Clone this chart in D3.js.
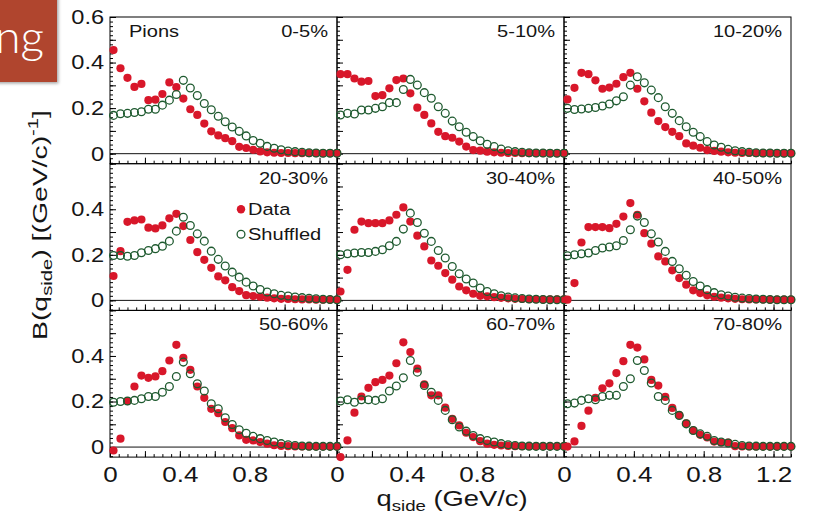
<!DOCTYPE html>
<html>
<head>
<meta charset="utf-8">
<script src="https://cdn.jsdelivr.net/npm/d3@7"></script>
<style>
    body { margin: 0; background: #fff; }
    svg { display: block; }
    text { font-family: "Liberation Sans", Arial, Helvetica, sans-serif; fill: #151515; }
</style>
</head>
<body>
<script>
/* bin centres of q_side (GeV/c) */
var qSide = [0.02, 0.06, 0.10, 0.14, 0.18, 0.22, 0.26, 0.30, 0.34, 0.38, 0.42,
             0.46, 0.50, 0.54, 0.58, 0.62, 0.66, 0.70, 0.74, 0.78, 0.82, 0.86,
             0.90, 0.94, 0.98, 1.02, 1.06, 1.10, 1.14, 1.18, 1.22, 1.26, 1.30];

var centralities = ["0-5%", "5-10%", "10-20%", "20-30%", "30-40%", "40-50%", "50-60%", "60-70%", "70-80%"];

/* B(q_side) of the data (filled red) and of shuffled events (open green), one pair per centrality */
var data_0_5 = [0.455, 0.375, 0.333, 0.293, 0.306, 0.235, 0.237, 0.262, 0.313, 0.292, 0.242,
                0.195, 0.170, 0.132, 0.098, 0.080, 0.068, 0.055, 0.030, 0.025, 0.017, 0.010,
                0.006, 0.004, 0.003, 0.003, 0.002, 0.002, 0.002, 0.002, 0.002, 0.002, 0.002];
var shuf_0_5 = [0.168, 0.175, 0.177, 0.181, 0.184, 0.195, 0.195, 0.213, 0.235, 0.260, 0.322,
                0.288, 0.255, 0.220, 0.193, 0.164, 0.140, 0.117, 0.098, 0.078, 0.058, 0.046,
                0.032, 0.024, 0.017, 0.012, 0.009, 0.006, 0.004, 0.003, 0.002, 0.002, 0.002];

var data_5_10 = [0.349, 0.349, 0.330, 0.316, 0.319, 0.253, 0.257, 0.287, 0.323, 0.330, 0.265,
                 0.202, 0.170, 0.133, 0.096, 0.077, 0.070, 0.053, 0.031, 0.016, 0.013, 0.009,
                 0.006, 0.004, 0.003, 0.003, 0.002, 0.002, 0.002, 0.002, 0.002, 0.002, 0.002];
var shuf_5_10 = [0.170, 0.177, 0.174, 0.192, 0.192, 0.199, 0.206, 0.224, 0.224, 0.282, 0.326,
                 0.301, 0.268, 0.243, 0.206, 0.177, 0.143, 0.118, 0.094, 0.075, 0.057, 0.041,
                 0.031, 0.020, 0.013, 0.009, 0.006, 0.004, 0.003, 0.003, 0.002, 0.002, 0.002];

var data_10_20 = [0.238, 0.289, 0.355, 0.349, 0.322, 0.285, 0.290, 0.307, 0.336, 0.355, 0.285,
                  0.230, 0.180, 0.143, 0.117, 0.096, 0.077, 0.045, 0.035, 0.026, 0.016, 0.012,
                  0.009, 0.006, 0.004, 0.003, 0.003, 0.002, 0.002, 0.002, 0.002, 0.002, 0.002];
var shuf_10_20 = [0.199, 0.194, 0.196, 0.199, 0.203, 0.209, 0.218, 0.232, 0.250, 0.301, 0.338,
                  0.311, 0.279, 0.246, 0.206, 0.177, 0.145, 0.118, 0.094, 0.075, 0.053, 0.038,
                  0.028, 0.019, 0.013, 0.009, 0.006, 0.004, 0.003, 0.003, 0.002, 0.002, 0.002];

var data_20_30 = [0.107, 0.216, 0.345, 0.351, 0.355, 0.319, 0.316, 0.329, 0.360, 0.380, 0.326,
                  0.265, 0.212, 0.178, 0.143, 0.105, 0.088, 0.058, 0.041, 0.023, 0.019, 0.016,
                  0.012, 0.009, 0.007, 0.006, 0.005, 0.004, 0.004, 0.003, 0.003, 0.003, 0.003];
var shuf_20_30 = [0.197, 0.197, 0.194, 0.197, 0.209, 0.219, 0.227, 0.238, 0.260, 0.304, 0.365,
                  0.329, 0.292, 0.260, 0.216, 0.180, 0.151, 0.124, 0.102, 0.080, 0.063, 0.048,
                  0.037, 0.029, 0.022, 0.019, 0.015, 0.012, 0.009, 0.007, 0.005, 0.004, 0.003];

var data_30_40 = [0.039, 0.134, 0.310, 0.346, 0.339, 0.339, 0.339, 0.351, 0.376, 0.408, 0.346,
                  0.284, 0.237, 0.175, 0.152, 0.120, 0.091, 0.061, 0.044, 0.029, 0.020, 0.018,
                  0.014, 0.011, 0.009, 0.007, 0.006, 0.005, 0.005, 0.004, 0.004, 0.004, 0.004];
var shuf_30_40 = [0.200, 0.205, 0.208, 0.210, 0.210, 0.215, 0.222, 0.240, 0.259, 0.313, 0.383,
                  0.342, 0.295, 0.259, 0.219, 0.186, 0.149, 0.117, 0.094, 0.076, 0.054, 0.039,
                  0.029, 0.020, 0.015, 0.011, 0.008, 0.006, 0.005, 0.004, 0.003, 0.003, 0.003];

var data_40_50 = [0.003, 0.076, 0.254, 0.322, 0.322, 0.322, 0.317, 0.336, 0.368, 0.427, 0.376,
                  0.295, 0.249, 0.193, 0.171, 0.132, 0.098, 0.069, 0.044, 0.032, 0.022, 0.016,
                  0.012, 0.009, 0.007, 0.005, 0.004, 0.004, 0.004, 0.003, 0.003, 0.003, 0.003];
var shuf_40_50 = [0.196, 0.200, 0.205, 0.208, 0.219, 0.230, 0.234, 0.240, 0.263, 0.310, 0.370,
                  0.342, 0.292, 0.256, 0.215, 0.171, 0.139, 0.110, 0.083, 0.063, 0.047, 0.034,
                  0.025, 0.019, 0.014, 0.010, 0.008, 0.006, 0.005, 0.004, 0.003, 0.003, 0.003];

var data_50_60 = [-0.015, 0.037, 0.202, 0.266, 0.314, 0.304, 0.310, 0.333, 0.380, 0.449, 0.392,
                  0.339, 0.266, 0.216, 0.168, 0.149, 0.110, 0.083, 0.051, 0.032, 0.029, 0.022,
                  0.015, 0.008, 0.005, 0.004, 0.003, 0.003, 0.003, 0.003, 0.003, 0.003, 0.003];
var shuf_50_60 = [0.197, 0.200, 0.202, 0.205, 0.212, 0.222, 0.222, 0.241, 0.266, 0.310, 0.373,
                  0.322, 0.278, 0.246, 0.190, 0.168, 0.129, 0.099, 0.076, 0.061, 0.047, 0.037,
                  0.029, 0.022, 0.015, 0.010, 0.007, 0.005, 0.004, 0.003, 0.003, 0.003, 0.003];

var data_60_70 = [-0.044, 0.029, 0.151, 0.222, 0.260, 0.285, 0.295, 0.314, 0.368, 0.460, 0.417,
                  0.344, 0.275, 0.227, 0.227, 0.173, 0.124, 0.095, 0.063, 0.044, 0.026, 0.015,
                  0.010, 0.007, 0.005, 0.004, 0.004, 0.004, 0.004, 0.004, 0.004, 0.004, 0.004];
var shuf_60_70 = [0.202, 0.208, 0.197, 0.208, 0.208, 0.205, 0.212, 0.246, 0.268, 0.304, 0.380,
                  0.329, 0.270, 0.241, 0.205, 0.161, 0.120, 0.088, 0.070, 0.051, 0.037, 0.029,
                  0.022, 0.015, 0.010, 0.007, 0.005, 0.004, 0.003, 0.003, 0.003, 0.003, 0.003];

var data_70_80 = [0.002, 0.025, 0.093, 0.160, 0.216, 0.258, 0.280, 0.325, 0.377, 0.449, 0.437,
                  0.385, 0.295, 0.270, 0.220, 0.172, 0.140, 0.104, 0.073, 0.054, 0.042, 0.024,
                  0.020, 0.020, 0.004, 0.003, 0.003, 0.003, 0.003, 0.003, 0.003, 0.003, 0.003];
var shuf_70_80 = [0.190, 0.193, 0.205, 0.212, 0.208, 0.222, 0.227, 0.227, 0.266, 0.300, 0.380,
                  0.336, 0.281, 0.222, 0.205, 0.161, 0.139, 0.102, 0.073, 0.058, 0.047, 0.029,
                  0.022, 0.018, 0.012, 0.007, 0.005, 0.004, 0.003, 0.003, 0.003, 0.003, 0.003];

var yTickLabels = [0, 0.2, 0.4, 0.6];
var xTickLabels = [0, 0.4, 0.8, 1.2];

var dataSeries = [data_0_5, data_5_10, data_10_20, data_20_30, data_30_40,
                  data_40_50, data_50_60, data_60_70, data_70_80];
var shuffledSeries = [shuf_0_5, shuf_5_10, shuf_10_20, shuf_20_30, shuf_30_40,
                      shuf_40_50, shuf_50_60, shuf_60_70, shuf_70_80];

var width = 813;
var height = 517;
var gridLeft = 110;  // left edge of the first column
var gridTop = 17;    // top edge of the first row
var panelW = 227;
var panelH = 146.7;
var stretch = 1.18;  // the picture is a little wider than tall, text too
var red = "#d8172a";
var green = "#1e5a2f";

var xScale = d3.scaleLinear().domain([0, 1.3]).range([0, panelW]);
var yScale = d3.scaleLinear().domain([-0.044, 0.6]).range([panelH, 0]);

var svg = d3.select("body")
            .append("svg")
            .attr("width", width)
            .attr("height", height);

/* the cut-off slide title box in the top left corner */
var defs = svg.append("defs");
defs.append("filter")
    .attr("id", "shadow")
    .attr("x", "-20%").attr("y", "-20%").attr("width", "150%").attr("height", "150%")
    .append("feDropShadow")
    .attr("dx", 1.5).attr("dy", 1.5)
    .attr("stdDeviation", 1.5)
    .attr("flood-opacity", 0.35);

svg.append("rect")
    .attr("x", -5).attr("y", -5)
    .attr("width", 62).attr("height", 87)
    .attr("fill", "#b0452f")
    .attr("filter", "url(#shadow)");

svg.append("text")
    .attr("x", 44).attr("y", 53)
    .attr("text-anchor", "end")
    .style("font-family", "Lato, 'Open Sans', sans-serif")
    .style("font-weight", 300)
    .style("font-size", "46px")
    .style("fill", "#fff")
    .text("ng");

function stretchText(sel) {
    sel.attr("transform", "scale(" + stretch + ",1)");
}

function panelOrigin(i) {
    var col = i % 3, row = Math.floor(i / 3);
    return "translate(" + (gridLeft + col * panelW) + "," + (gridTop + row * panelH) + ")";
}

/* frames, ticks and labels of the nine panels */
centralities.forEach(function(label, i) {
    var col = i % 3, row = Math.floor(i / 3);
    var g = svg.append("g").attr("transform", panelOrigin(i));

    g.append("rect")
        .attr("width", panelW).attr("height", panelH)
        .attr("fill", "none").attr("stroke", "#000").attr("stroke-width", 1);

    // zero line
    g.append("line")
        .attr("x1", 0).attr("x2", panelW)
        .attr("y1", yScale(0)).attr("y2", yScale(0))
        .attr("stroke", "#111").attr("stroke-width", 1);

    // inward ticks on the left edge
    var yMinor = d3.range(-2, 31).map(function(k) { return k * 0.02; });
    var yMajor = d3.range(0, 7).map(function(k) { return k * 0.1; });
    g.append("g")
        .call(d3.axisLeft(yScale).tickValues(yMinor).tickSize(-3).tickFormat(""));
    g.append("g")
        .call(d3.axisLeft(yScale).tickValues(yMajor).tickSize(-6).tickFormat(""));

    // inward ticks on the bottom edge
    var xMinor = d3.range(0, 27).map(function(k) { return k * 0.05; });
    var xMajor = d3.range(0, 7).map(function(k) { return k * 0.2; });
    g.append("g").attr("transform", "translate(0," + panelH + ")")
        .call(d3.axisBottom(xScale).tickValues(xMinor).tickSize(-3).tickFormat(""));
    g.append("g").attr("transform", "translate(0," + panelH + ")")
        .call(d3.axisBottom(xScale).tickValues(xMajor).tickSize(-6).tickFormat(""));

    g.selectAll(".domain").remove();
    g.selectAll(".tick line").attr("stroke", "#000");

    // y tick labels, first column only
    if (col == 0) {
        var yAxis = g.append("g")
            .call(d3.axisLeft(yScale)
                .tickValues(row == 0 ? yTickLabels : yTickLabels.slice(0, 3))
                .tickSize(0).tickPadding(5)
                .tickFormat(function(d) { return d == 0 ? "0" : d3.format(".1f")(d); }));
        yAxis.select(".domain").remove();
        yAxis.selectAll("text")
            .style("font-size", "20px")
            .attr("fill", null)
            .call(stretchText);
    }

    // x tick labels, bottom row only
    if (row == 2) {
        var xAxis = g.append("g")
            .attr("transform", "translate(0," + panelH + ")")
            .call(d3.axisBottom(xScale)
                .tickValues(col == 2 ? xTickLabels : xTickLabels.slice(0, 3))
                .tickSize(0).tickPadding(9)
                .tickFormat(function(d) { return d == 0 ? "0" : d3.format(".1f")(d); }));
        xAxis.select(".domain").remove();
        xAxis.selectAll("text")
            .style("font-size", "22px")
            .attr("fill", null)
            .call(stretchText);
    }

    // centrality label
    g.append("text")
        .attr("transform", "translate(" + (panelW - 9) + ",20) scale(" + stretch + ",1)")
        .attr("text-anchor", "end")
        .style("font-size", "17px")
        .text(label);

    if (i == 0) {
        g.append("text")
            .attr("transform", "translate(19,20) scale(" + stretch + ",1)")
            .style("font-size", "17px")
            .text("Pions");
    }

    // legend in the 20-30% panel
    if (i == 3) {
        g.append("circle")
            .attr("cx", 131).attr("cy", 45.5).attr("r", 4.2)
            .attr("fill", red);
        g.append("text")
            .attr("transform", "translate(138,51.5) scale(" + stretch + ",1)")
            .style("font-size", "17px")
            .text("Data");
        g.append("circle")
            .attr("cx", 131).attr("cy", 70.5).attr("r", 3.9)
            .attr("fill", "none").attr("stroke", green).attr("stroke-width", 1.3);
        g.append("text")
            .attr("transform", "translate(138,76.5) scale(" + stretch + ",1)")
            .style("font-size", "17px")
            .text("Shuffled");
    }
});

/* markers go on top of every frame, they spill over the panel edges */
centralities.forEach(function(label, i) {
    var g = svg.append("g").attr("transform", panelOrigin(i));

    g.selectAll("circle.data")
        .data(dataSeries[i])
        .enter()
        .append("circle")
        .attr("class", "data")
        .attr("cx", function(d, j) { return xScale(qSide[j]); })
        .attr("cy", function(d) { return yScale(d); })
        .attr("r", 4.1)
        .attr("fill", red);

    g.selectAll("circle.shuffled")
        .data(shuffledSeries[i])
        .enter()
        .append("circle")
        .attr("class", "shuffled")
        .attr("cx", function(d, j) { return xScale(qSide[j]); })
        .attr("cy", function(d) { return yScale(d); })
        .attr("r", 3.9)
        .attr("fill", "none")
        .attr("stroke", green)
        .attr("stroke-width", 1.3);
});

/* axis titles */
var xTitle = svg.append("text")
    .attr("x", 452).attr("y", 506)
    .attr("text-anchor", "middle")
    .attr("textLength", 151)
    .attr("lengthAdjust", "spacingAndGlyphs")
    .style("font-size", "22px");
xTitle.append("tspan").text("q");
xTitle.append("tspan").attr("dy", 5).style("font-size", "15px").text("side");
xTitle.append("tspan").attr("dy", -5).text(" (GeV/c)");

var yTitle = svg.append("text")
    .attr("transform", "translate(47,225) rotate(-90)")
    .attr("text-anchor", "middle")
    .attr("textLength", 230)
    .attr("lengthAdjust", "spacingAndGlyphs")
    .style("font-size", "21px");
yTitle.append("tspan").text("B(q");
yTitle.append("tspan").attr("dy", 5).style("font-size", "15px").text("side");
yTitle.append("tspan").attr("dy", -5).text(") [(GeV/c)");
yTitle.append("tspan").attr("dy", -9).style("font-size", "15px").text("-1");
yTitle.append("tspan").attr("dy", 9).text("]");
</script>
</body>
</html>
